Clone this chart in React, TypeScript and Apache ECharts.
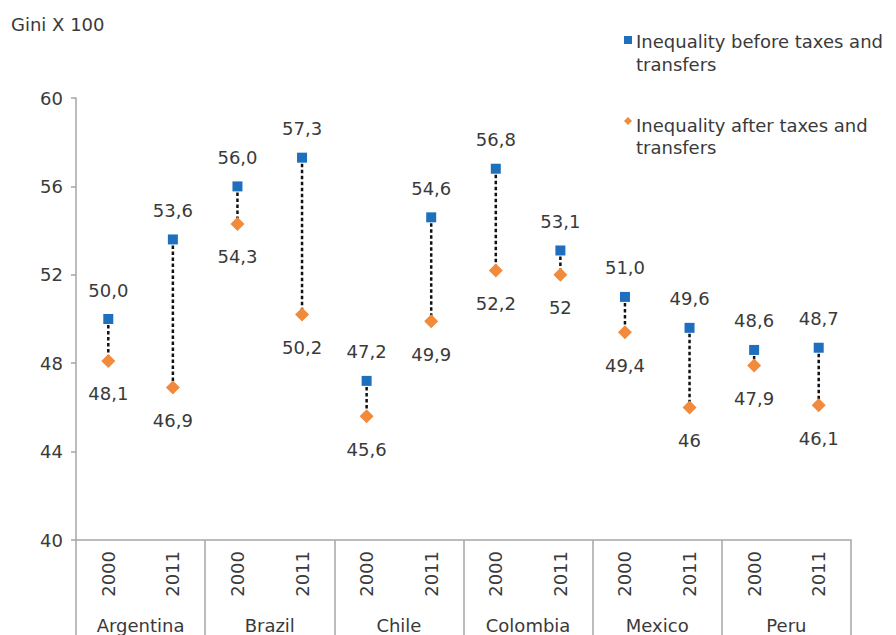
import React, { useEffect, useRef } from "react";
import * as echarts from "echarts";

const countries = ["Argentina", "Brazil", "Chile", "Colombia", "Mexico", "Peru"];
const years = ["2000", "2011", "2000", "2011", "2000", "2011", "2000", "2011", "2000", "2011", "2000", "2011"];
const beforeValues = [50.0, 53.6, 56.0, 57.3, 47.2, 54.6, 56.8, 53.1, 51.0, 49.6, 48.6, 48.7];
const afterValues = [48.1, 46.9, 54.3, 50.2, 45.6, 49.9, 52.2, 52, 49.4, 46, 47.9, 46.1];
const beforeLabels = ["50,0", "53,6", "56,0", "57,3", "47,2", "54,6", "56,8", "53,1", "51,0", "49,6", "48,6", "48,7"];
const afterLabels = ["48,1", "46,9", "54,3", "50,2", "45,6", "49,9", "52,2", "52", "49,4", "46", "47,9", "46,1"];
const yTicks = [40, 44, 48, 52, 56, 60];
const beforeName = "Inequality before taxes and\ntransfers";
const afterName = "Inequality after taxes and\ntransfers";
const yTitle = "Gini X 100";

const FONT = "DejaVu Sans";
const TXT = "#3a3a3a";
const AXIS = "#a6a6a6";
const BLUE = "#1f6fbf";
const ORANGE = "#f28a3c";
const FS = 18;

export default function App() {
  const ref = useRef<HTMLDivElement>(null);
  useEffect(() => {
    if (!ref.current) return;
    const chart = echarts.init(ref.current, null, { renderer: "svg" });
    const yMin = yTicks[0];
    const yMax = yTicks[yTicks.length - 1];
    const yInt = yTicks[1] - yTicks[0];
    chart.setOption({
      animation: false,
      backgroundColor: "#ffffff",
      textStyle: { fontFamily: FONT, color: TXT },
      grid: { left: 76, right: 45, top: 98, bottom: 95, containLabel: false },
      xAxis: [
        {
          type: "category",
          data: years,
          position: "bottom",
          axisLine: { show: true, lineStyle: { color: AXIS, width: 1.5 } },
          axisTick: { show: false },
          axisLabel: {
            rotate: 90,
            interval: 0,
            margin: 11,
            fontSize: FS,
            color: TXT,
            fontFamily: FONT,
          },
        },
        {
          type: "category",
          data: countries,
          position: "bottom",
          axisLine: { show: false },
          axisTick: { show: true, length: 96, interval: 0, lineStyle: { color: AXIS, width: 1.5 } },
          axisLabel: { interval: 0, margin: 76, fontSize: FS, color: TXT, fontFamily: FONT },
        },
      ],
      yAxis: {
        type: "value",
        min: yMin,
        max: yMax,
        interval: yInt,
        splitLine: { show: false },
        axisLine: { show: true, lineStyle: { color: AXIS, width: 1.5 } },
        axisTick: { show: true, length: 5, lineStyle: { color: AXIS, width: 1.5 } },
        axisLabel: { margin: 13, fontSize: FS, color: TXT, fontFamily: FONT },
      },
      graphic: [
        {
          type: "text",
          left: 11,
          top: 15,
          style: { text: yTitle, font: `18px "${FONT}"`, fill: TXT },
        },
        {
          type: "rect",
          left: 624,
          top: 36,
          shape: { width: 8, height: 8 },
          style: { fill: BLUE },
        },
        {
          type: "text",
          left: 636,
          top: 30,
          style: { text: beforeName, font: `${FS}px "${FONT}"`, fill: TXT, lineHeight: 23 },
        },
        {
          type: "polygon",
          shape: { points: [[628, 117], [632, 121], [628, 125], [624, 121]] },
          style: { fill: ORANGE },
        },
        {
          type: "text",
          left: 636,
          top: 114,
          style: { text: afterName, font: `${FS}px "${FONT}"`, fill: TXT, lineHeight: 22 },
        },
      ],
      series: [
        {
          type: "custom",
          xAxisIndex: 0,
          z: 1,
          data: beforeValues.map((b, i) => [i, b, afterValues[i]]),
          renderItem: (params: any, api: any) => {
            const p1 = api.coord([api.value(0), api.value(1)]);
            const p2 = api.coord([api.value(0), api.value(2)]);
            return {
              type: "line",
              shape: { x1: p1[0], y1: p1[1], x2: p2[0], y2: p2[1] },
              style: { stroke: "#111111", lineWidth: 2.5, lineDash: [3.5, 2.5] },
            };
          },
        },
        {
          name: beforeName,
          type: "scatter",
          xAxisIndex: 0,
          z: 3,
          symbol: "rect",
          symbolSize: 10,
          itemStyle: { color: BLUE, opacity: 1 },
          data: beforeValues,
          label: {
            show: true,
            position: "top",
            distance: 15,
            fontSize: FS,
            color: TXT,
            fontFamily: FONT,
            formatter: (p: any) => beforeLabels[p.dataIndex],
          },
        },
        {
          name: afterName,
          type: "scatter",
          xAxisIndex: 0,
          z: 3,
          symbol: "diamond",
          symbolSize: 14,
          itemStyle: { color: ORANGE, opacity: 1 },
          data: afterValues,
          label: {
            show: true,
            position: "bottom",
            distance: 17,
            fontSize: FS,
            color: TXT,
            fontFamily: FONT,
            formatter: (p: any) => afterLabels[p.dataIndex],
          },
        },
      ],
    });
    return () => chart.dispose();
  }, []);
  return (
    <div
      ref={ref}
      style={{ position: "absolute", left: 0, top: 0, width: 896, height: 635 }}
    />
  );
}
